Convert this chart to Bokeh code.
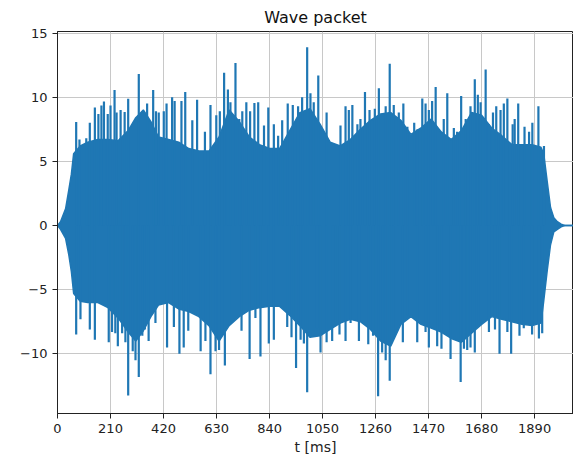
from bokeh.plotting import figure
from bokeh.models import Range1d, FixedTicker, ColumnDataSource
from bokeh.embed import file_html
from bokeh.resources import INLINE

# ---- data (t in ms, amplitude) ----
core_t = [0, 12, 32, 45, 55, 64, 90, 120, 160, 200, 240, 280, 310, 340, 370, 400, 440, 480,
          520, 560, 600, 640, 680, 720, 760, 800, 840, 880, 920, 960, 1000, 1040, 1080, 1120,
          1160, 1200, 1240, 1280, 1320, 1360, 1400, 1440, 1480, 1520, 1560, 1600, 1640, 1680,
          1720, 1760, 1800, 1840, 1880, 1915, 1926, 1940, 1953, 1966, 1980, 1995, 2010, 2048]
core_upper = [0, 0.3, 1.3, 2.8, 4.0, 5.6, 6.2, 6.5, 6.7, 6.7, 6.6, 7.4, 8.4, 9.0, 8.1, 6.9, 6.7,
              6.5, 6.0, 5.8, 5.8, 6.9, 9.0, 8.1, 6.9, 6.3, 6.0, 6.0, 7.4, 8.8, 9.1, 7.9, 6.5,
              6.2, 6.7, 7.5, 8.2, 8.7, 8.8, 8.2, 7.1, 7.6, 8.3, 7.3, 6.7, 7.4, 8.8, 8.6, 7.6,
              7.0, 6.3, 6.3, 6.3, 6.1, 5.6, 3.4, 1.4, 0.6, 0.3, 0.1, 0, 0]
core_lower = [0, -0.3, -1.0, -2.3, -3.6, -5.3, -5.9, -6.0, -6.0, -6.4, -7.2, -8.3, -9.0, -8.2,
              -7.1, -6.2, -6.0, -6.5, -6.7, -7.1, -7.8, -9.0, -7.8, -7.1, -6.6, -6.4, -6.3,
              -6.3, -7.0, -7.8, -8.7, -8.6, -8.1, -7.6, -7.3, -7.5, -8.1, -9.0, -9.4, -7.7,
              -7.1, -7.7, -8.0, -8.3, -8.8, -9.1, -8.4, -7.7, -7.1, -7.3, -7.5, -7.7, -7.8,
              -7.6, -5.9, -3.5, -1.5, -0.5, -0.3, -0.1, 0, 0]

peak_up_t = [74, 87, 114, 128, 148, 162, 174, 184, 199, 210, 226, 234, 250, 266, 280, 322, 355,
             379, 390, 401, 421, 432, 454, 464, 491, 506, 534, 553, 584, 606, 629, 643, 660,
             675, 685, 705, 720, 732, 748, 763, 780, 795, 818, 835, 857, 874, 890, 912, 932,
             953, 969, 989, 1002, 1015, 1033, 1066, 1121, 1141, 1154, 1168, 1188, 1200, 1218,
             1236, 1257, 1273, 1300, 1316, 1332, 1352, 1370, 1386, 1413, 1426, 1445, 1458,
             1471, 1484, 1498, 1530, 1544, 1570, 1583, 1599, 1617, 1636, 1653, 1665, 1676,
             1696, 1709, 1725, 1738, 1755, 1768, 1782, 1803, 1811, 1825, 1850, 1868, 1881,
             1905, 1927]
peak_up_v = [8.06, 6.7, 6.8, 8.0, 9.2, 8.7, 9.35, 9.67, 8.7, 9.35, 10.57, 8.8, 9.0, 8.85, 9.87,
             11.8, 9.5, 10.57, 8.9, 8.8, 8.9, 9.5, 10.0, 9.7, 9.7, 10.4, 8.2, 9.8, 7.3, 9.4,
             8.6, 8.9, 11.9, 10.6, 9.6, 12.66, 8.3, 8.9, 9.6, 8.9, 9.55, 9.6, 7.8, 9.2, 7.9,
             7.0, 8.2, 9.5, 9.4, 9.3, 10.0, 13.9, 10.3, 9.6, 11.7, 8.8, 7.8, 9.3, 9.0, 9.4,
             7.9, 8.3, 10.4, 9.0, 9.1, 10.7, 9.3, 12.6, 9.4, 8.8, 9.5, 7.7, 8.0, 7.5, 9.9,
             9.5, 9.0, 9.7, 10.8, 8.3, 10.3, 7.6, 7.3, 10.1, 8.3, 9.3, 11.4, 10.2, 9.6, 12.15,
             7.9, 8.8, 9.3, 9.0, 9.5, 9.9, 7.9, 8.3, 9.5, 7.7, 7.3, 8.0, 9.3, 6.2]

peak_dn_t = [74, 91, 128, 148, 203, 216, 229, 239, 256, 269, 280, 298, 309, 322, 336, 346, 361,
             388, 434, 461, 483, 500, 518, 567, 586, 606, 626, 640, 663, 679, 729, 761, 784,
             804, 837, 857, 910, 927, 945, 963, 976, 989, 1028, 1042, 1066, 1088, 1102, 1117,
             1141, 1161, 1194, 1231, 1250, 1270, 1286, 1300, 1316, 1332, 1368, 1386, 1425,
             1458, 1471, 1504, 1521, 1557, 1575, 1597, 1610, 1623, 1636, 1653, 1669, 1709,
             1733, 1751, 1782, 1797, 1830, 1847, 1880, 1907, 1920]
peak_dn_v = [-8.5, -7.3, -8.1, -8.9, -9.1, -8.3, -8.4, -9.4, -8.4, -9.1, -13.25, -9.8, -10.5,
             -11.8, -8.6, -8.1, -9.0, -7.6, -9.5, -7.9, -10.0, -9.5, -8.2, -9.8, -9.0, -11.6,
             -9.8, -9.7, -10.9, -7.7, -8.2, -10.4, -7.2, -10.2, -9.2, -8.9, -7.9, -8.7, -11.1,
             -8.9, -9.2, -13.0, -8.0, -9.9, -9.1, -9.0, -7.6, -8.5, -9.0, -7.6, -9.0, -9.25,
             -8.6, -13.3, -9.9, -10.5, -12.1, -8.6, -9.1, -7.0, -9.1, -8.3, -9.5, -9.4, -9.6,
             -10.4, -8.3, -12.2, -9.6, -9.7, -9.5, -9.9, -7.7, -8.3, -8.1, -10.0, -8.3, -10.0,
             -8.6, -8.0, -8.5, -8.8, -8.4]

x_ticks = [0, 210, 420, 630, 840, 1050, 1260, 1470, 1680, 1890]
y_ticks = [-10, -5, 0, 5, 10, 15]

BLUE = "#1f77b4"
FONT = "DejaVu Sans"

p = figure(width=573, height=459, output_backend="svg", toolbar_location=None,
           x_range=Range1d(0, 2044), y_range=Range1d(-14.65, 15.12),
           min_border_left=57, min_border_right=0, min_border_top=29, min_border_bottom=46,
           title="Wave packet")

p.title.text_font = FONT
p.title.text_font_size = "16px"
p.title.text_font_style = "normal"
p.title.align = "center"
p.title.text_color = "#111111"

p.background_fill_color = "white"
p.border_fill_color = "white"
p.outline_line_color = "#222222"
p.outline_line_width = 1

for ax in (p.xaxis[0], p.yaxis[0]):
    ax.axis_line_color = "#222222"
    ax.major_tick_line_color = "#222222"
    ax.major_tick_out = 5
    ax.major_tick_in = 0
    ax.minor_tick_line_color = None
    ax.major_label_text_font = FONT
    ax.major_label_text_font_size = "13px"
    ax.major_label_text_color = "#222222"

p.xaxis.ticker = FixedTicker(ticks=x_ticks)
p.yaxis.ticker = FixedTicker(ticks=y_ticks)
p.yaxis.major_label_overrides = {-10: "\u221210", -5: "\u22125"}
p.xaxis.axis_label = "t [ms]"
p.xaxis.axis_label_text_font = FONT
p.xaxis.axis_label_text_font_size = "14px"
p.xaxis.axis_label_text_font_style = "normal"
p.xaxis.axis_label_text_color = "#222222"
p.xaxis.axis_label_standoff = 3

p.xgrid.grid_line_color = "#c8c8c8"
p.ygrid.grid_line_color = "#c8c8c8"
p.xgrid.grid_line_width = 1
p.ygrid.grid_line_width = 1

core = ColumnDataSource(dict(t=core_t, up=core_upper, lo=core_lower))
p.varea(x="t", y1="lo", y2="up", source=core, fill_color=BLUE)
p.line(x="t", y="up", source=core, line_color=BLUE, line_width=1.5)
p.line(x="t", y="lo", source=core, line_color=BLUE, line_width=1.5)

up = ColumnDataSource(dict(t=peak_up_t, v=peak_up_v, z=[0] * len(peak_up_t)))
dn = ColumnDataSource(dict(t=peak_dn_t, v=peak_dn_v, z=[0] * len(peak_dn_t)))
p.segment(x0="t", y0="z", x1="t", y1="v", source=up, line_color=BLUE, line_width=2.2)
p.segment(x0="t", y0="z", x1="t", y1="v", source=dn, line_color=BLUE, line_width=2.2)

open("out.html", "w").write(file_html(p, INLINE))
